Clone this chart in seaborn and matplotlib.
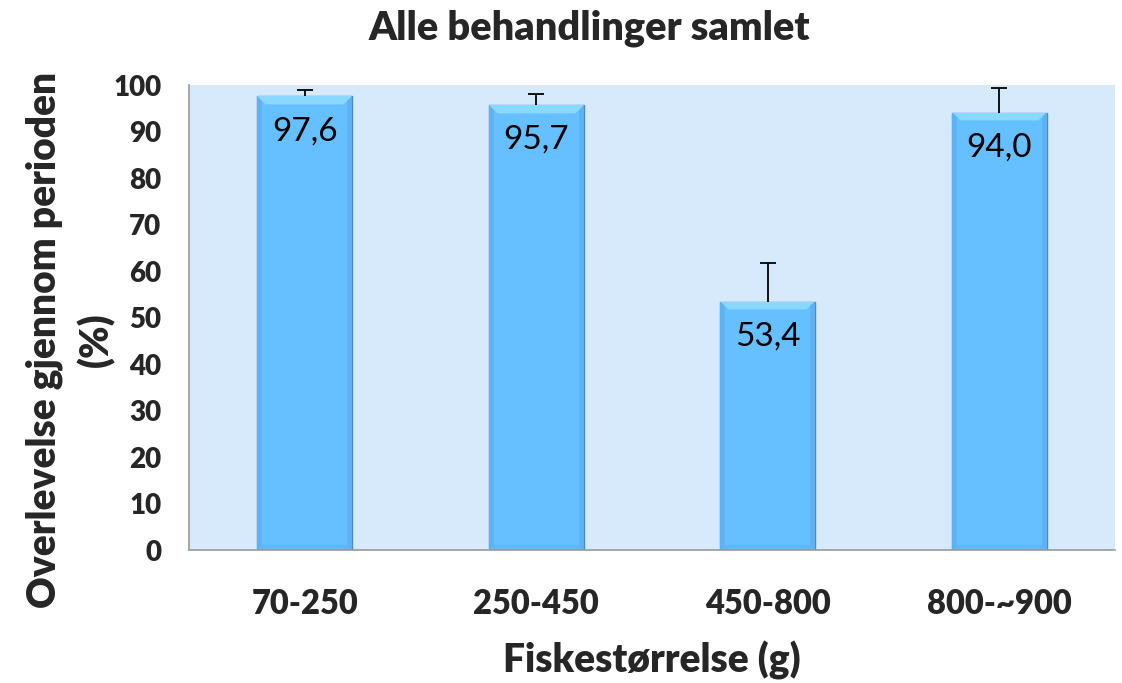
import numpy as np
import pandas as pd
import matplotlib
matplotlib.use("Agg")
import matplotlib.pyplot as plt
import seaborn as sns

sizes = ["70-250", "250-450", "450-800", "800-~900"]
survival = [97.6, 95.7, 53.4, 94.0]
err_up = [1.3, 2.4, 8.3, 5.3]
labels = ["97,6", "95,7", "53,4", "94,0"]

df = pd.DataFrame({"size": sizes, "survival": survival})

sns.set_style("white")
plt.rcParams["font.family"] = ["Lato", "DejaVu Sans"]

fig = plt.figure(figsize=(11.22, 6.83), dpi=100)
ax = fig.add_axes([0.1684, 0.1947, 0.8254, 0.6808])
ax.set_facecolor("#D6EAFB")

sns.barplot(data=df, x="size", y="survival", color="#66BFFF", width=0.41,
            edgecolor="#4A8CC0", linewidth=1.0, saturation=1, ax=ax, zorder=2)

# bevelled look: darker sides, lighter top strip
cmap = matplotlib.colors.LinearSegmentedColormap.from_list(
    "bev", ["#4C9EDE", "#66BFFF", "#9CE4FF"])
px_per_unit = 4.65
for p in ax.patches:
    x0, y0 = p.get_x(), p.get_y()
    w, h = p.get_width(), p.get_height()
    rows = max(int(h * 10), 2)
    xx = np.linspace(0, 1, 100)
    side = np.minimum(xx, 1 - xx) * 95
    yy = np.linspace(h, 0, rows)
    top = (h - yy) * px_per_unit
    bot = yy * px_per_unit
    S, T = np.meshgrid(side, top)
    _, B = np.meshgrid(side, bot)
    a = np.full(S.shape, 0.5)
    a[S < 4] = 0.32
    a[(B < 5) & (B < S)] = 0.38
    a[(T < 8) & (T < S)] = 0.85
    im = ax.imshow(a, cmap=cmap, vmin=0, vmax=1, extent=[x0, x0 + w, y0, y0 + h],
                   aspect="auto", interpolation="bilinear", zorder=2.5)
    im.set_clip_path(p)

xs = np.arange(len(sizes))
tops = np.array(survival) + np.array(err_up)
ax.vlines(xs, survival, tops, color="black", linewidth=1.3, zorder=3)
ax.plot(xs, tops, linestyle="none", marker="_", markersize=11, mew=1.3,
        color="black", zorder=3)

for i, (v, t) in enumerate(zip(survival, labels)):
    ax.text(i, v - 4.3, t, ha="center", va="top", fontsize=24, color="black", zorder=4)

ax.set_xlim(-0.5, 3.5)
ax.set_ylim(0, 100)
ax.set_yticks(range(0, 101, 10))
ax.set_xticks([-0.5, 0.5, 1.5, 2.5, 3.5], minor=True)
ax.tick_params(axis="x", which="major", length=0, pad=27, labelsize=23.5)
ax.tick_params(axis="x", which="minor", length=7, color="#999999", width=1.2)
ax.tick_params(axis="y", length=6, color="#999999", width=1.2, labelsize=20, pad=14)
for lab in ax.get_xticklabels() + ax.get_yticklabels():
    lab.set_fontweight("heavy")

for s in ["top", "right"]:
    ax.spines[s].set_visible(False)
for s in ["left", "bottom"]:
    ax.spines[s].set_color("#999999")
    ax.spines[s].set_linewidth(1.2)

ax.set_xlabel("Fiskestørrelse (g)", fontsize=28, fontweight="heavy")
ax.xaxis.label.set_va("center")
ax.xaxis.set_label_coords(0.5, -0.2365)
ax.set_ylabel("Overlevelse gjennom perioden\n(%)", fontsize=28, fontweight="heavy",
              linespacing=1.45)
ax.yaxis.label.set_va("center")
ax.yaxis.set_label_coords(-0.128, 0.452)
fig.text(0.525, 0.959, "Alle behandlinger samlet", ha="center", va="center",
         fontsize=28.5, fontweight="heavy")

fig.savefig("out.png", dpi=100)
